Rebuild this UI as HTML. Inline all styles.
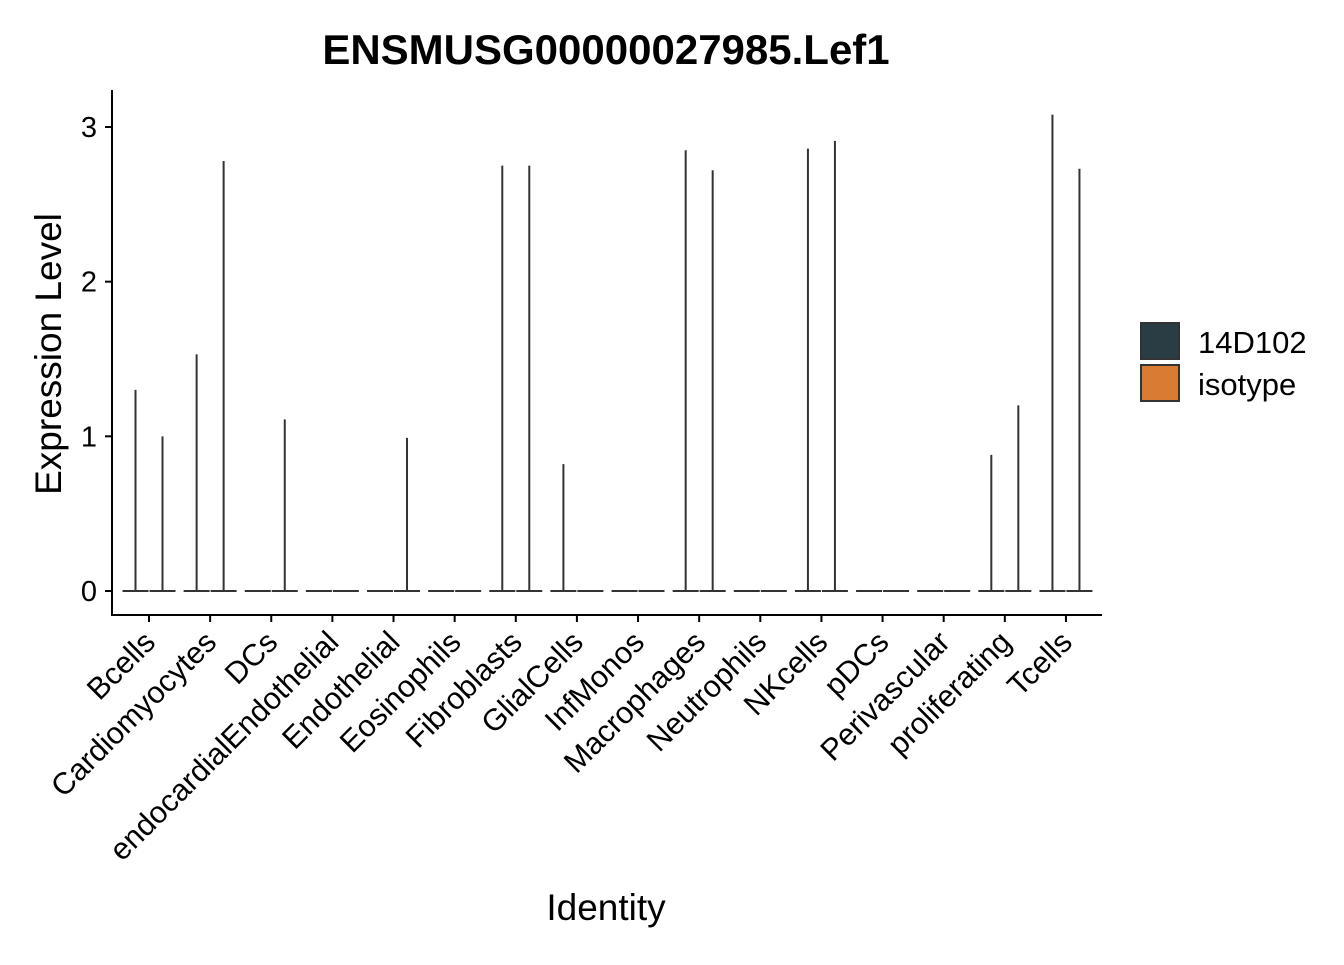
<!DOCTYPE html>
<html><head><meta charset="utf-8"><style>
body{margin:0;background:#fff;}
svg text{font-family:"Liberation Sans",Arial,sans-serif;}
</style></head><body>
<svg id="chart" width="1344" height="960">
<text x="606" y="64" text-anchor="middle" font-size="42" font-weight="bold">ENSMUSG00000027985.Lef1</text>
<text transform="translate(61,354) rotate(-90)" text-anchor="middle" font-size="37">Expression Level</text>
<text x="606" y="920" text-anchor="middle" font-size="37">Identity</text>
<g id="plot"></g>
<g>
<rect x="1141" y="323" width="38" height="36" fill="#2a3d45" stroke="#333" stroke-width="2"/>
<text x="1198" y="353" font-size="31">14D102</text>
<rect x="1141" y="365" width="38" height="36" fill="#d97b33" stroke="#333" stroke-width="2"/>
<text x="1198" y="395" font-size="31">isotype</text>
</g>
</svg>
<script>
const categories=["Bcells","Cardiomyocytes","DCs","endocardialEndothelial","Endothelial","Eosinophils","Fibroblasts","GlialCells","InfMonos","Macrophages","Neutrophils","NKcells","pDCs","Perivascular","proliferating","Tcells"];
const max14D102=[1.30,1.53,0,0,0,0,2.75,0.82,0,2.85,0,2.86,0,0,0.88,3.08];
const maxIsotype=[1.00,2.78,1.11,0,0.99,0,2.75,0,0,2.72,0,2.91,0,0,1.20,2.73];
const yTicks=[0,1,2,3];
const NS="http://www.w3.org/2000/svg";
const g=document.getElementById('plot');
const x0=149,dx=61.13,y0=591,ky=154.67;
const xs=i=>x0+i*dx, ys=v=>y0-v*ky;
function el(t,a){const e=document.createElementNS(NS,t);for(const k in a)e.setAttribute(k,a[k]);g.appendChild(e);return e;}
let ax=el('line',{x1:112,y1:90,x2:112,y2:616,stroke:'#000','stroke-width':2});


let bx=el('line',{x1:111,y1:615,x2:1102,y2:615,stroke:'#000','stroke-width':2});


yTicks.forEach(v=>{
 let t=el('line',{x1:105,x2:112,y1:ys(v),y2:ys(v),stroke:'#000','stroke-width':2});
 
 
 let l=el('text',{x:97,y:ys(v)+10,'text-anchor':'end','font-size':29});
 l.textContent=v;
 
 
});
categories.forEach((c,i)=>{
 const x=xs(i);
 let t=el('line',{x1:x,x2:x,y1:615,y2:622,stroke:'#000','stroke-width':2});
 
 
 let l=el('text',{transform:`translate(${x+8},${644}) rotate(-45)`,'text-anchor':'end','font-size':30.5});
 l.textContent=c;
 
 
 [[max14D102[i],-13.5,'#2a3d45','violin-14d102'],[maxIsotype[i],13.5,'#d97b33','violin-isotype']].forEach(([v,o,col,n])=>{
  const cx=x+o;
  let b=el('path',{d:`M${cx-13},${y0} L${cx+13},${y0} M${cx},${y0} L${cx},${ys(v)}`,stroke:'#333','stroke-width':2,fill:'none'});
  
  
 });
});
</script>
</body></html>
